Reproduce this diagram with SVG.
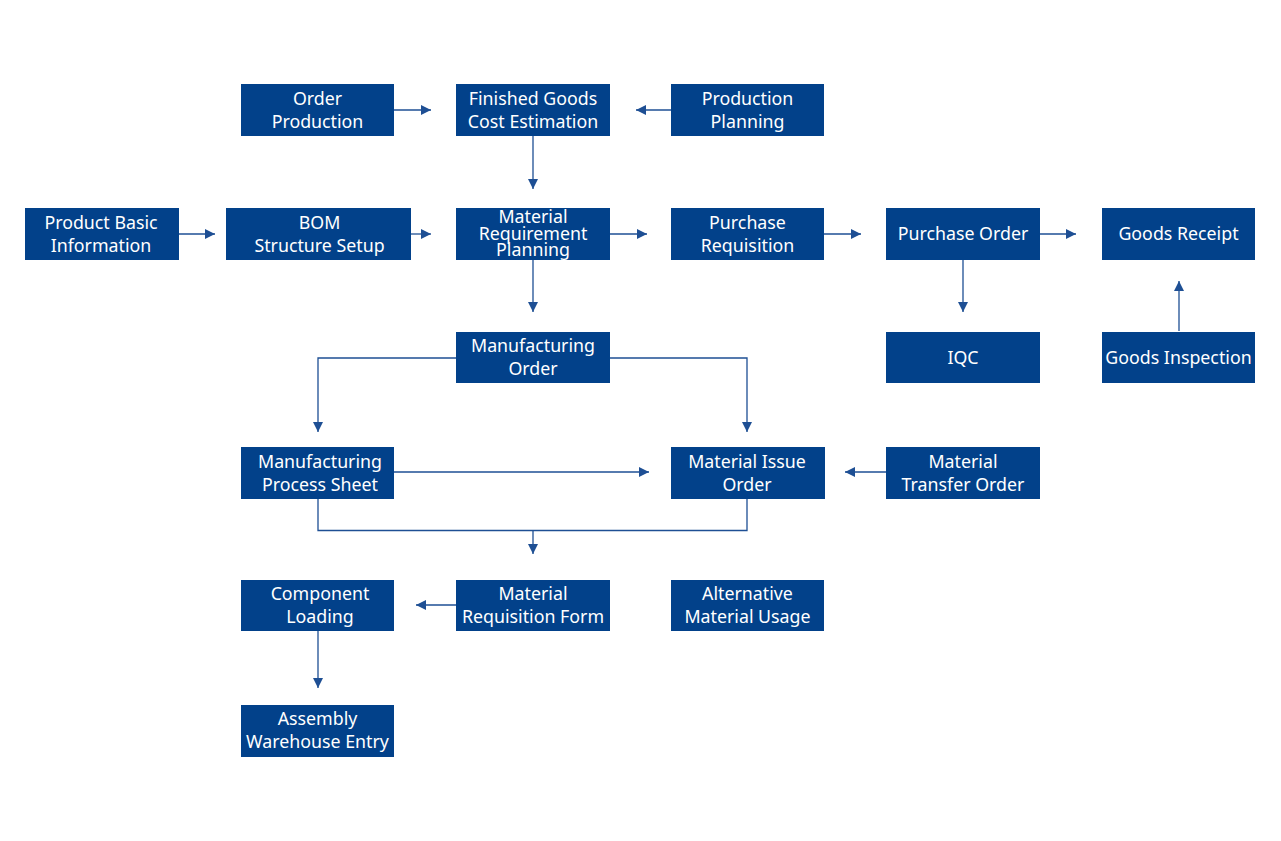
<svg xmlns="http://www.w3.org/2000/svg" width="1281" height="841" viewBox="0 0 1281 841">
<defs>
<style>
.box{fill:#02418A;}
.t{font-family:"Noto Sans","Liberation Sans",sans-serif;font-size:17.8px;fill:#ffffff;text-anchor:middle;}
.c{fill:none;stroke:#1E4F94;stroke-width:1.3;}
</style>
<marker id="ah" viewBox="0 0 10 10" refX="10" refY="5" markerWidth="10" markerHeight="10" markerUnits="userSpaceOnUse" orient="auto">
<path d="M0,0 L10,5 L0,10 Z" fill="#1E4F94"/>
</marker>
</defs>
<rect width="1281" height="841" fill="#ffffff"/>
<g id="connectors">
<path class="c" d="M394,110 H431" marker-end="url(#ah)"/>
<path class="c" d="M671,110 H636" marker-end="url(#ah)"/>
<path class="c" d="M533,136 V189" marker-end="url(#ah)"/>
<path class="c" d="M179,234 H215" marker-end="url(#ah)"/>
<path class="c" d="M411,234 H431" marker-end="url(#ah)"/>
<path class="c" d="M610,234 H647" marker-end="url(#ah)"/>
<path class="c" d="M824,234 H861" marker-end="url(#ah)"/>
<path class="c" d="M1040,234 H1076" marker-end="url(#ah)"/>
<path class="c" d="M963,260 V312" marker-end="url(#ah)"/>
<path class="c" d="M1179,331 V281" marker-end="url(#ah)"/>
<path class="c" d="M533,260 V312" marker-end="url(#ah)"/>
<path class="c" d="M456,358 H318 V432" marker-end="url(#ah)"/>
<path class="c" d="M610,358 H747 V432" marker-end="url(#ah)"/>
<path class="c" d="M394,472 H649" marker-end="url(#ah)"/>
<path class="c" d="M886,472 H845" marker-end="url(#ah)"/>
<path class="c" d="M318,498 V530.5 H747 V498"/>
<path class="c" d="M533,530.5 V554" marker-end="url(#ah)"/>
<path class="c" d="M456,605 H416" marker-end="url(#ah)"/>
<path class="c" d="M318,631 V688" marker-end="url(#ah)"/>
</g>
<g id="n-order-production"><rect class="box" x="241" y="84" width="153" height="52"/><text class="t" x="317.5" y="105">Order</text><text class="t" x="317.5" y="128">Production</text></g>
<g id="n-finished-goods"><rect class="box" x="456" y="84" width="154" height="52"/><text class="t" x="533" y="105">Finished Goods</text><text class="t" x="533" y="128">Cost Estimation</text></g>
<g id="n-production-planning"><rect class="box" x="671" y="84" width="153" height="52"/><text class="t" x="747.5" y="105">Production</text><text class="t" x="747.5" y="128">Planning</text></g>
<g id="n-product-basic"><rect class="box" x="25" y="208" width="154" height="52"/><text class="t" x="101" y="229">Product Basic</text><text class="t" x="101" y="252">Information</text></g>
<g id="n-bom"><rect class="box" x="226" y="208" width="185" height="52"/><text class="t" x="319.5" y="229">BOM</text><text class="t" x="319.5" y="252">Structure Setup</text></g>
<g id="n-mrp"><rect class="box" x="456" y="208" width="154" height="52"/><text class="t" x="533" y="223">Material</text><text class="t" x="533" y="240">Requirement</text><text class="t" x="533" y="256">Planning</text></g>
<g id="n-purchase-req"><rect class="box" x="671" y="208" width="153" height="52"/><text class="t" x="747.5" y="229">Purchase</text><text class="t" x="747.5" y="252">Requisition</text></g>
<g id="n-purchase-order"><rect class="box" x="886" y="208" width="154" height="52"/><text class="t" x="963" y="240">Purchase Order</text></g>
<g id="n-goods-receipt"><rect class="box" x="1102" y="208" width="153" height="52"/><text class="t" x="1178.5" y="240">Goods Receipt</text></g>
<g id="n-mfg-order"><rect class="box" x="456" y="332" width="154" height="51"/><text class="t" x="533" y="352">Manufacturing</text><text class="t" x="533" y="375">Order</text></g>
<g id="n-iqc"><rect class="box" x="886" y="332" width="154" height="51"/><text class="t" x="963" y="364">IQC</text></g>
<g id="n-goods-inspection"><rect class="box" x="1102" y="332" width="153" height="51"/><text class="t" x="1178.5" y="364">Goods Inspection</text></g>
<g id="n-process-sheet"><rect class="box" x="241" y="447" width="153" height="52"/><text class="t" x="320" y="468">Manufacturing</text><text class="t" x="320" y="491">Process Sheet</text></g>
<g id="n-material-issue"><rect class="box" x="671" y="447" width="154" height="52"/><text class="t" x="747" y="468">Material Issue</text><text class="t" x="747" y="491">Order</text></g>
<g id="n-material-transfer"><rect class="box" x="886" y="447" width="154" height="52"/><text class="t" x="963" y="468">Material</text><text class="t" x="963" y="491">Transfer Order</text></g>
<g id="n-component-loading"><rect class="box" x="241" y="580" width="153" height="51"/><text class="t" x="320" y="600">Component</text><text class="t" x="320" y="623">Loading</text></g>
<g id="n-material-req-form"><rect class="box" x="456" y="580" width="154" height="51"/><text class="t" x="533" y="600">Material</text><text class="t" x="533" y="623">Requisition Form</text></g>
<g id="n-alternative"><rect class="box" x="671" y="580" width="153" height="51"/><text class="t" x="747.5" y="600">Alternative</text><text class="t" x="747.5" y="623">Material Usage</text></g>
<g id="n-assembly"><rect class="box" x="241" y="705" width="153" height="52"/><text class="t" x="317.5" y="725">Assembly</text><text class="t" x="317.5" y="748">Warehouse Entry</text></g>
</svg>
